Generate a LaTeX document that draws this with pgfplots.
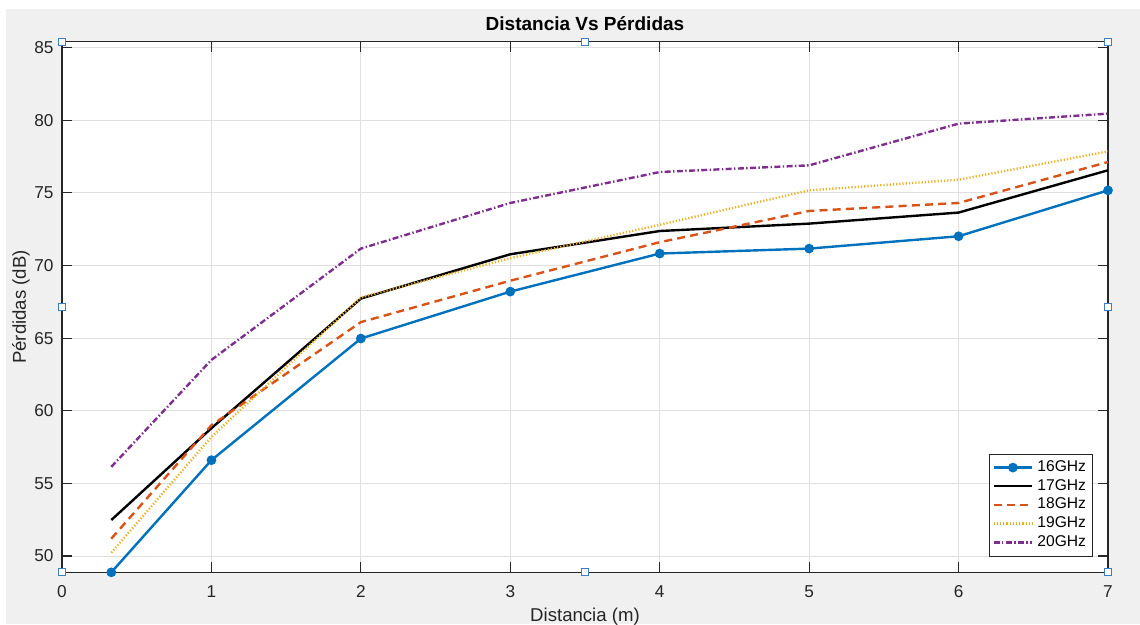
\documentclass[border=0pt]{standalone}
\usepackage{pgfplots}
\pgfplotsset{compat=1.18}
\usepackage{fontspec}
\setmainfont{Liberation Sans}
\usetikzlibrary{backgrounds}

\definecolor{mblue}{RGB}{0,114,189}
\definecolor{morange}{RGB}{217,83,25}
\definecolor{myellow}{RGB}{237,177,32}
\definecolor{mpurple}{RGB}{126,47,142}
\definecolor{figgray}{RGB}{240,240,240}
\definecolor{axgray}{RGB}{38,38,38}
\definecolor{gridgray}{RGB}{223,223,223}
\definecolor{handle}{RGB}{58,127,196}

\begin{document}
\begin{tikzpicture}
\begin{axis}[
  name=ax,
  scale only axis,
  width=523pt, height=265.3pt,
  xmin=0, xmax=7, ymin=48.88, ymax=85.4,
  xtick={0,1,...,7},
  ytick={50,55,...,85},
  grid=major,
  major grid style={line width=0.5pt, draw=gridgray},
  axis line style={line width=0.6pt, draw=axgray},
  tick style={line width=0.6pt, draw=axgray},
  major tick length=5pt,
  tick align=inside,
  /pgf/number format/assume math mode=true,
  ticklabel style={font=\fontsize{8.6}{10}\selectfont, text=axgray},
  xticklabel style={yshift=-3.3pt},
  yticklabel style={xshift=-0.7pt},
  every axis title shift=0pt,
  title={\textbf{Distancia Vs Pérdidas}},
  title style={font=\fontsize{9.5}{11}\selectfont, at={(axis description cs:0.5,1.0207)}, anchor=base, inner sep=0pt},
  xlabel={Distancia (m)},
  ylabel={Pérdidas (dB)},
  xlabel style={font=\fontsize{9.3}{11}\selectfont, text=axgray, at={(axis description cs:0.5,-0.0665)}, anchor=north, inner sep=0pt},
  ylabel style={font=\fontsize{9.3}{11}\selectfont, text=axgray, at={(axis description cs:-0.0305,0.5)}, rotate=0, anchor=south, inner sep=0pt},
  legend style={at={(axis description cs:1,0)}, anchor=south east, xshift=-7.5pt, yshift=8pt,
    font=\fontsize{7.8}{9}\selectfont, draw=axgray, fill=white,
    inner sep=1.3pt, row sep=-1.6pt},
  legend cell align=left,
  legend image code/.code={\draw[mark repeat=2,mark phase=2] plot coordinates {(0cm,0cm) (0.34cm,0cm) (0.68cm,0cm)};},
  clip=false,
]
% 16 GHz
\addplot[mblue, line width=1.2pt, mark=*, mark size=1.8pt] coordinates {
  (0.33,48.88) (1,56.6) (2,64.97) (3,68.2) (4,70.82) (5,71.16) (6,72.01) (7,75.17)};
\addlegendentry{16GHz}
% 17 GHz
\addplot[black, line width=1.2pt] coordinates {
  (0.33,52.48) (1,58.8) (2,67.72) (3,70.77) (4,72.37) (5,72.88) (6,73.64) (7,76.55)};
\addlegendentry{17GHz}
% 18 GHz
\addplot[morange, line width=1.2pt, dash pattern=on 4pt off 2.6pt] coordinates {
  (0.33,51.2) (1,59.0) (2,66.1) (3,68.95) (4,71.6) (5,73.75) (6,74.3) (7,77.12)};
\addlegendentry{18GHz}
% 19 GHz
\addplot[myellow, line width=1.2pt, dash pattern=on 0.6pt off 1pt] coordinates {
  (0.33,50.23) (1,58.2) (2,67.8) (3,70.5) (4,72.8) (5,75.17) (6,75.9) (7,77.85)};
\addlegendentry{19GHz}
% 20 GHz
\addplot[mpurple, line width=1.2pt, dash pattern=on 3pt off 1.2pt on 0.7pt off 1.2pt] coordinates {
  (0.33,56.14) (1,63.5) (2,71.16) (3,74.3) (4,76.43) (5,76.89) (6,79.76) (7,80.45)};
\addlegendentry{20GHz}
% selection handles on the axes box
\addplot[only marks, mark=square*, mark size=1.7pt, mark options={draw=handle, fill=white, line width=0.5pt}, forget plot] coordinates {
  (0,85.4) (3.5,85.4) (7,85.4) (0,67.14) (7,67.14) (0,48.88) (3.5,48.88) (7,48.88)};
\end{axis}
\pgfresetboundingbox
\path[use as bounding box] ([shift={(-31pt,-25.85pt)}]ax.south west) rectangle ([shift={(16pt,20.85pt)}]ax.north east);
\begin{scope}[on background layer]
  \fill[white] ([shift={(-31pt,-25.85pt)}]ax.south west) rectangle ([shift={(16pt,20.85pt)}]ax.north east);
  \fill[figgray] ([shift={(-28pt,-25.85pt)}]ax.south west) rectangle ([shift={(16pt,16.35pt)}]ax.north east);
  \fill[white] (ax.south west) rectangle (ax.north east);
\end{scope}
\end{tikzpicture}
\end{document}
